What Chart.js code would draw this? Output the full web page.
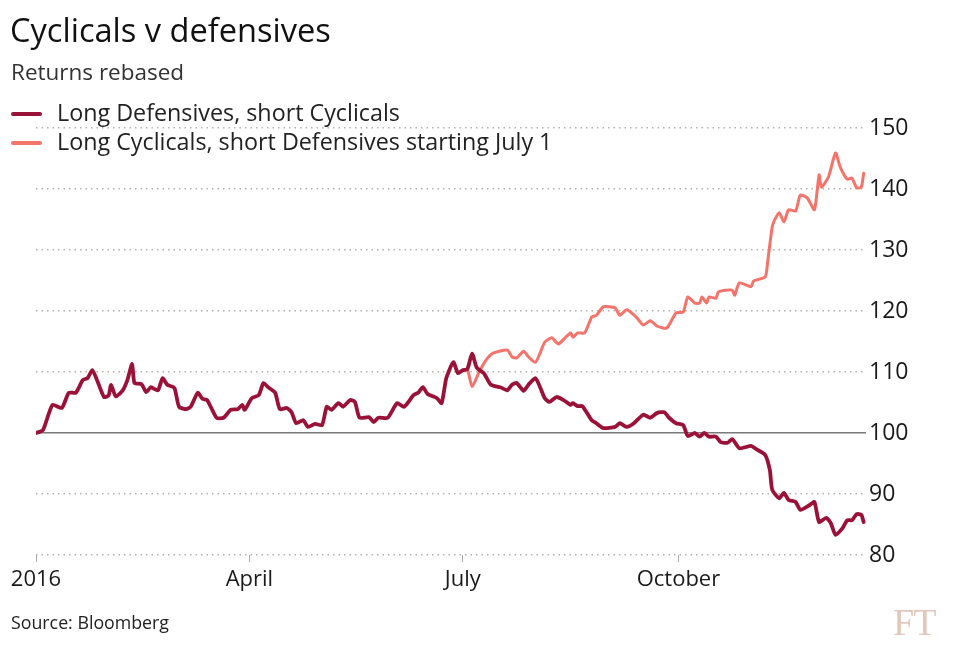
<!DOCTYPE html>
<html>
<head>
<meta charset="utf-8">
<script src="https://cdn.jsdelivr.net/npm/chart.js@4.4.1/dist/chart.umd.min.js"></script>
<style>
  body { margin: 0; background: #fff; font-family: "Open Sans", sans-serif; color: #1a1a1a; }
  #wrap { position: relative; width: 954px; height: 654px; }
  canvas { position: absolute; left: 0; top: 0; }
  .txt { position: absolute; white-space: nowrap; }
  #title { left: 10px; top: 8px; font-size: 32.6px; line-height: 44px; color: #111; }
  #subtitle { left: 11px; top: 58px; font-size: 22.5px; line-height: 28px; color: #333; }
  .leg { left: 11px; font-size: 23.3px; line-height: 28px; color: #222; }
  .leg i { display: inline-block; width: 31px; height: 4px; border-radius: 2px; vertical-align: middle; margin-right: 15px; position: relative; top: -1px; }
  #leg1 { top: 98px; }
  #leg2 { top: 127px; }
  #source { left: 11px; top: 610px; font-size: 17.8px; line-height: 24px; color: #222; }
  #ft { left: 893px; top: 602px; font-family: "Liberation Serif", serif; font-size: 38px; line-height: 40px; color: #e2c8bc; letter-spacing: -1px; }
</style>
</head>
<body>
<div id="wrap">
  <canvas id="chart" width="954" height="654"></canvas>
  <div class="txt" id="title">Cyclicals v defensives</div>
  <div class="txt" id="subtitle">Returns rebased</div>
  <div class="txt leg" id="leg1"><i style="background:#9b1238"></i>Long Defensives, short Cyclicals</div>
  <div class="txt leg" id="leg2"><i style="background:#f4736b"></i>Long Cyclicals, short Defensives starting July 1</div>
  <div class="txt" id="source">Source: Bloomberg</div>
  <div class="txt" id="ft">FT</div>
</div>
<script>
// days since Jan 1 2016
const defDays = [0,3,7,11,14,17,20,22,24,26,29,31,32,34,37,39,41,42,45,47,49,52,54,56,59,61,64,66,69,71,73,77,80,83,86,88,89,92,95,97,99,102,104,107,109,111,114,116,119,122,124,126,129,131,134,136,138,142,144,146,150,154,157,161,163,165,167,171,173,175,178,180,182,184,186,188,191,194,198,201,203,205,208,210,213,215,217,219,222,225,228,229,231,233,237,239,242,247,249,252,255,259,262,265,268,270,273,276,278,281,283,285,287,290,292,295,297,300,305,307,311,313,314,317,319,321,324,326,330,332,334,337,339,341,344,346,348,350,352,353];
const defValues = [100,100.5,104.6,104.1,106.6,106.6,108.7,109,110.3,108.7,105.9,106.2,107.9,106,107,108.7,111.3,108.2,108,106.7,107.5,107,109,107.9,107.4,104.3,103.9,104.3,106.6,105.6,105.4,102.5,102.5,103.8,103.9,104.6,103.8,105.7,106.2,108.2,107.5,106.6,103.9,104.1,103.4,101.6,102.1,101,101.5,101.3,104.3,103.8,104.9,104.3,105.4,105.1,102.5,102.6,101.8,102.5,102.5,104.9,104.3,106.2,106.6,107.5,106.4,105.7,104.9,109,111.6,109.8,110.3,110.5,113,110.7,109.8,107.9,107.5,107,107.9,108.2,106.9,107.9,109,107.5,105.7,105.1,105.9,105.4,104.6,104.9,104.4,104.4,102.1,101.6,100.8,101,101.6,101,101.6,103,102.5,103.3,103.4,102.5,101.6,101.3,99.5,100,99.4,100,99.4,99.4,98.5,98.4,99,97.5,97.9,97.4,96.4,93.9,90.7,89.3,90.2,89,88.7,87.4,88.2,88.7,85.4,86.1,85.2,83.3,84.4,85.7,85.7,86.7,86.6,85.4];

const cycDays = [182,184,186,189,192,195,201,203,205,208,210,213,215,217,220,222,223,228,229,231,234,237,239,242,247,249,252,256,259,262,265,269,273,276,278,281,283,284,286,287,290,291,294,297,298,300,305,306,311,312,314,315,317,319,321,324,326,329,332,334,335,338,341,343,346,348,350,352,353];
const cycValues = [110.3,110.4,107.6,110,112,113.1,113.6,112.5,112.3,113.4,112.5,111.6,113.1,114.9,115.6,114.8,114.6,116.4,115.7,116.4,116.4,119,119.3,120.7,120.5,119.3,120.2,119,117.7,118.4,117.5,117.2,119.7,119.8,122.3,121.3,121.3,122.3,121.3,122.3,122.1,123.1,123.4,123.4,122.6,124.6,124,124.9,125.6,127.9,133.8,134.9,136.1,134.6,136.6,136.4,139,138.5,136.6,142.3,140.3,142,145.9,143.6,141.6,141.8,140.2,140.3,142.6];

const tickDays = [0, 91, 182, 274];
const tickLabels = ["2016", "April", "July", "October"];
const yTicks = [80, 90, 100, 110, 120, 130, 140, 150];

function toPoints(days, values) {
  return days.map((d, i) => ({ x: d, y: values[i] }));
}

const ctx = document.getElementById("chart").getContext("2d");

new Chart(ctx, {
  type: "line",
  data: {
    datasets: [
      {
        label: "Long Cyclicals, short Defensives starting July 1",
        data: toPoints(cycDays, cycValues),
        borderColor: "#f4736b",
        borderWidth: 3,
        order: 2
      },
      {
        label: "Long Defensives, short Cyclicals",
        data: toPoints(defDays, defValues),
        borderColor: "#9b1238",
        borderWidth: 3.8,
        order: 1
      }
    ]
  },
  options: {
    responsive: false,
    animation: false,
    devicePixelRatio: 1,
    layout: { padding: { left: 36, top: 128, right: 0, bottom: 0 } },
    elements: {
      point: { radius: 0 },
      line: { tension: 0.2, borderJoinStyle: "round", borderCapStyle: "round" }
    },
    plugins: {
      legend: { display: false },
      tooltip: { enabled: false }
    },
    scales: {
      x: {
        type: "linear",
        min: 0,
        max: 354,
        afterBuildTicks: scale => {
          scale.ticks = tickDays.map(v => ({ value: v }));
        },
        afterFit: scale => { scale.height = 99; },
        ticks: {
          autoSkip: false,
          maxRotation: 0,
          padding: 5,
          color: "#1a1a1a",
          font: { family: "Open Sans", size: 22 },
          callback: value => tickLabels[tickDays.indexOf(value)]
        },
        grid: {
          drawOnChartArea: false,
          drawTicks: true,
          tickLength: 7,
          color: "#a8a8a8",
          lineWidth: 1
        },
        border: { display: false }
      },
      y: {
        position: "right",
        min: 80,
        max: 150,
        afterBuildTicks: scale => {
          scale.ticks = yTicks.map(v => ({ value: v }));
        },
        afterFit: scale => { scale.width = 88; },
        ticks: {
          padding: 3,
          color: "#1a1a1a",
          font: { family: "Open Sans", size: 23 }
        },
        grid: {
          drawTicks: false,
          color: c => c.tick && c.tick.value === 100 ? "#7a7a7a" : "#b5b2aa",
          lineWidth: 1.5
        },
        border: {
          display: false,
          dash: c => c.tick && c.tick.value === 100 ? [] : [1.5, 4]
        }
      }
    }
  }
});
</script>
</body>
</html>
